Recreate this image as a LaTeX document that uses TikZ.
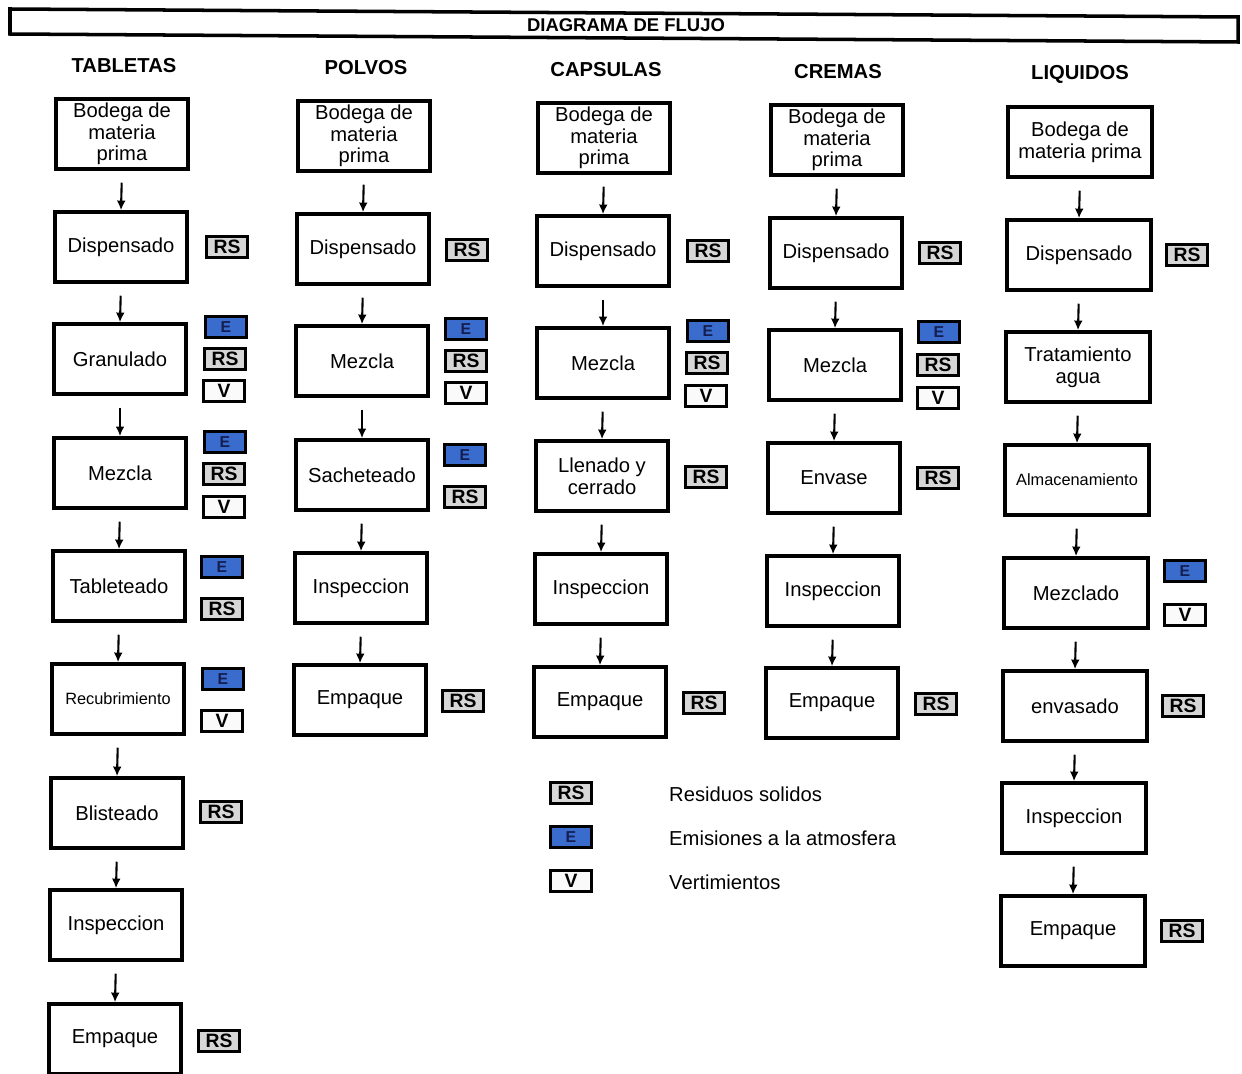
\documentclass[tikz,border=0pt]{standalone}
\usepackage{fontspec}
\setmainfont{Liberation Sans}
\usetikzlibrary{arrows.meta}
\definecolor{azulE}{RGB}{58,108,206}
\definecolor{grisRS}{RGB}{214,214,214}
\definecolor{tintaE}{RGB}{20,30,80}

\begin{document}
\begin{tikzpicture}[x=0.02cm,y=-0.02cm,
    proc/.style={draw,line width=2pt,minimum width=2.64cm,minimum height=1.4cm,inner sep=1pt,align=center,font=\fontsize{11.5}{12.3}\selectfont},
    ancho/.style={minimum width=2.88cm},
    chico/.style={font=\fontsize{9.3}{11}\selectfont},
    tag/.style={draw,line width=1.6pt,minimum width=0.82cm,minimum height=0.42cm,inner sep=0pt,font=\fontsize{11}{11}\selectfont\bfseries},
    rs/.style={tag,fill=grisRS},
    emis/.style={tag,fill=azulE,text=tintaE,font=\fontsize{9}{9}\selectfont\bfseries},
    vert/.style={tag,fill=gray!4},
    titulo/.style={font=\fontsize{11.5}{12}\selectfont\bfseries},
    leyenda/.style={anchor=west,font=\fontsize{11.5}{12}\selectfont},
    flecha/.style={-{Latex[length=5.5pt,width=5pt]},line width=1.2pt,shorten <=0.24cm}]
  \useasboundingbox (0,0) rectangle (1242,1074);

  \draw[line width=2pt] (10,9) -- (1238,17) -- (1238,42) -- (10,34) -- cycle;
  \node[titulo,font=\fontsize{10.5}{11}\selectfont\bfseries] (diag) at (626,25) {DIAGRAMA DE FLUJO};

  \node[titulo] (tab) at (124,66) {TABLETAS};
  \node[proc] (t0) at (122,134) {Bodega de\\materia\\prima};
  \node[proc] (t1) at (121,247) {Dispensado};
  \node[proc] (t2) at (120,359) {Granulado};
  \node[proc] (t3) at (120,473) {Mezcla};
  \node[proc] (t4) at (119,586) {Tableteado};
  \node[proc,chico] (t5) at (118,699) {Recubrimiento};
  \node[proc] (t6) at (117,813) {Blisteado};
  \node[proc] (t7) at (116,925) {Inspeccion};
  \node[proc] (t8) at (115,1039) {Empaque};
  \node[rs] (t1rs) at (227,247) {RS};
  \node[emis] (t2e) at (226,327) {E};
  \node[rs] (t2rs) at (225,359) {RS};
  \node[vert] (t2v) at (224,391) {V};
  \node[emis] (t3e) at (225,442) {E};
  \node[rs] (t3rs) at (224,474) {RS};
  \node[vert] (t3v) at (224,507) {V};
  \node[emis] (t4e) at (222,567) {E};
  \node[rs] (t4rs) at (222,609) {RS};
  \node[emis] (t5e) at (223,679) {E};
  \node[vert] (t5v) at (222,721) {V};
  \node[rs] (t6rs) at (221,812) {RS};
  \node[rs] (t8rs) at (219,1041) {RS};

  \node[titulo] (pol) at (366,68) {POLVOS};
  \node[proc] (p0) at (364,136) {Bodega de\\materia\\prima};
  \node[proc] (p1) at (363,249) {Dispensado};
  \node[proc] (p2) at (362,361) {Mezcla};
  \node[proc] (p3) at (362,475) {Sacheteado};
  \node[proc] (p4) at (361,588) {Inspeccion};
  \node[proc] (p5) at (360,700) {Empaque};
  \node[rs] (p1rs) at (467,250) {RS};
  \node[emis] (p2e) at (466,329) {E};
  \node[rs] (p2rs) at (466,361) {RS};
  \node[vert] (p2v) at (466,393) {V};
  \node[emis] (p3e) at (465,455) {E};
  \node[rs] (p3rs) at (465,497) {RS};
  \node[rs] (p5rs) at (463,701) {RS};

  \node[titulo] (cap) at (606,70) {CAPSULAS};
  \node[proc] (c0) at (604,138) {Bodega de\\materia\\prima};
  \node[proc] (c1) at (603,251) {Dispensado};
  \node[proc] (c2) at (603,363) {Mezcla};
  \node[proc] (c3) at (602,476) {Llenado y\\cerrado};
  \node[proc] (c4) at (601,589) {Inspeccion};
  \node[proc] (c5) at (600,702) {Empaque};
  \node[rs] (c1rs) at (708,251) {RS};
  \node[emis] (c2e) at (708,331) {E};
  \node[rs] (c2rs) at (707,363) {RS};
  \node[vert] (c2v) at (706,396) {V};
  \node[rs] (c3rs) at (706,477) {RS};
  \node[rs] (c5rs) at (704,703) {RS};

  \node[titulo] (cre) at (838,72) {CREMAS};
  \node[proc] (k0) at (837,140) {Bodega de\\materia\\prima};
  \node[proc] (k1) at (836,253) {Dispensado};
  \node[proc] (k2) at (835,365) {Mezcla};
  \node[proc] (k3) at (834,478) {Envase};
  \node[proc] (k4) at (833,591) {Inspeccion};
  \node[proc] (k5) at (832,703) {Empaque};
  \node[rs] (k1rs) at (940,253) {RS};
  \node[emis] (k2e) at (939,332) {E};
  \node[rs] (k2rs) at (938,365) {RS};
  \node[vert] (k2v) at (938,398) {V};
  \node[rs] (k3rs) at (938,478) {RS};
  \node[rs] (k5rs) at (936,704) {RS};

  \node[titulo] (liq) at (1080,74) {LIQUIDOS};
  \node[proc,ancho] (l0) at (1080,142) {Bodega de\\materia prima};
  \node[proc,ancho] (l1) at (1079,255) {Dispensado};
  \node[proc,ancho] (l2) at (1078,367) {Tratamiento\\agua};
  \node[proc,ancho,chico] (l3) at (1077,480) {Almacenamiento};
  \node[proc,ancho] (l4) at (1076,593) {Mezclado};
  \node[proc,ancho] (l5) at (1075,706) {envasado};
  \node[proc,ancho] (l6) at (1074,818) {Inspeccion};
  \node[proc,ancho] (l7) at (1073,931) {Empaque};
  \node[rs] (l1rs) at (1187,255) {RS};
  \node[emis] (l4e) at (1185,571) {E};
  \node[vert] (l4v) at (1185,615) {V};
  \node[rs] (l5rs) at (1183,706) {RS};
  \node[rs] (l7rs) at (1182,931) {RS};

  \foreach \c/\n in {t/8,p/5,c/5,k/5,l/7} {
    \foreach[evaluate={int(\i-1)} as \h] \i in {1,...,\n} {
      \draw[flecha] (\c\h.south) -- (\c\i.north);
    }
  }

  \node[rs] (leyrs) at (571,793) {RS};
  \node[emis] (leye) at (571,837) {E};
  \node[vert] (leyv) at (571,881) {V};
  \node[leyenda] (txtrs) at (663,794) {Residuos solidos};
  \node[leyenda] (txte) at (663,838) {Emisiones a la atmosfera};
  \node[leyenda] (txtv) at (663,882) {Vertimientos};
\end{tikzpicture}
\end{document}
